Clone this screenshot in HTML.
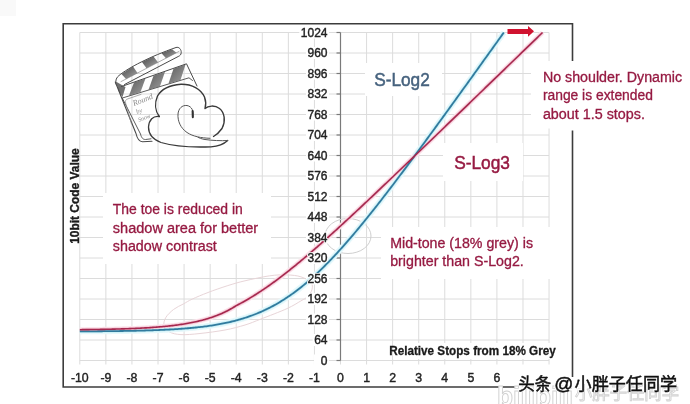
<!DOCTYPE html>
<html><head><meta charset="utf-8"><style>
html,body{margin:0;padding:0;background:#fff;width:690px;height:404px;overflow:hidden}
svg{display:block}
</style></head><body>
<svg width="690" height="404" viewBox="0 0 690 404">
<rect width="690" height="404" fill="#fff"/>
<rect width="16" height="16" fill="#f9f9f9"/>
<g stroke="#dcdcdc" stroke-width="1" fill="none"><line x1="79.8" y1="360.50" x2="549" y2="360.50"/><line x1="79.8" y1="340.00" x2="549" y2="340.00"/><line x1="79.8" y1="319.50" x2="549" y2="319.50"/><line x1="79.8" y1="299.00" x2="549" y2="299.00"/><line x1="79.8" y1="278.50" x2="549" y2="278.50"/><line x1="79.8" y1="258.00" x2="549" y2="258.00"/><line x1="79.8" y1="237.50" x2="549" y2="237.50"/><line x1="79.8" y1="217.00" x2="549" y2="217.00"/><line x1="79.8" y1="196.50" x2="549" y2="196.50"/><line x1="79.8" y1="176.00" x2="549" y2="176.00"/><line x1="79.8" y1="155.50" x2="549" y2="155.50"/><line x1="79.8" y1="135.00" x2="549" y2="135.00"/><line x1="79.8" y1="114.50" x2="549" y2="114.50"/><line x1="79.8" y1="94.00" x2="549" y2="94.00"/><line x1="79.8" y1="73.50" x2="549" y2="73.50"/><line x1="79.8" y1="53.00" x2="549" y2="53.00"/><line x1="79.8" y1="32.50" x2="549" y2="32.50"/><line x1="79.80" y1="32.5" x2="79.80" y2="364.5"/><line x1="105.87" y1="32.5" x2="105.87" y2="364.5"/><line x1="131.94" y1="32.5" x2="131.94" y2="364.5"/><line x1="158.01" y1="32.5" x2="158.01" y2="364.5"/><line x1="184.08" y1="32.5" x2="184.08" y2="364.5"/><line x1="210.15" y1="32.5" x2="210.15" y2="364.5"/><line x1="236.22" y1="32.5" x2="236.22" y2="364.5"/><line x1="262.29" y1="32.5" x2="262.29" y2="364.5"/><line x1="288.36" y1="32.5" x2="288.36" y2="364.5"/><line x1="314.43" y1="32.5" x2="314.43" y2="364.5"/><line x1="340.50" y1="32.5" x2="340.50" y2="364.5"/><line x1="366.57" y1="32.5" x2="366.57" y2="364.5"/><line x1="392.64" y1="32.5" x2="392.64" y2="364.5"/><line x1="418.71" y1="32.5" x2="418.71" y2="364.5"/><line x1="444.78" y1="32.5" x2="444.78" y2="364.5"/><line x1="470.85" y1="32.5" x2="470.85" y2="364.5"/><line x1="496.92" y1="32.5" x2="496.92" y2="364.5"/><line x1="522.99" y1="32.5" x2="522.99" y2="364.5"/><line x1="549.06" y1="32.5" x2="549.06" y2="364.5"/></g>
<g stroke="#7a7a7a" stroke-width="1.2"><line x1="340.5" y1="32.5" x2="340.5" y2="360.5"/><line x1="336.5" y1="360.50" x2="340.5" y2="360.50"/><line x1="336.5" y1="340.00" x2="340.5" y2="340.00"/><line x1="336.5" y1="319.50" x2="340.5" y2="319.50"/><line x1="336.5" y1="299.00" x2="340.5" y2="299.00"/><line x1="336.5" y1="278.50" x2="340.5" y2="278.50"/><line x1="336.5" y1="258.00" x2="340.5" y2="258.00"/><line x1="336.5" y1="237.50" x2="340.5" y2="237.50"/><line x1="336.5" y1="217.00" x2="340.5" y2="217.00"/><line x1="336.5" y1="196.50" x2="340.5" y2="196.50"/><line x1="336.5" y1="176.00" x2="340.5" y2="176.00"/><line x1="336.5" y1="155.50" x2="340.5" y2="155.50"/><line x1="336.5" y1="135.00" x2="340.5" y2="135.00"/><line x1="336.5" y1="114.50" x2="340.5" y2="114.50"/><line x1="336.5" y1="94.00" x2="340.5" y2="94.00"/><line x1="336.5" y1="73.50" x2="340.5" y2="73.50"/><line x1="336.5" y1="53.00" x2="340.5" y2="53.00"/><line x1="336.5" y1="32.50" x2="340.5" y2="32.50"/></g>

<ellipse cx="348" cy="236" rx="23" ry="17.5" fill="none" stroke="#cfcfcf" stroke-width="1"/>
<path d="M164 326 C163.4 323.6 164.2 320.2 165.8 317.5 C167.4 314.8 170.6 311.8 173.5 309.5 C176.4 307.2 180.2 305.7 183.3 304.0 C186.4 302.3 188.1 301.0 192.2 299.1 C196.3 297.2 202.1 294.8 208 292.5 C213.9 290.2 221.6 287.6 227.8 285.6 C234.0 283.7 238.0 282.4 245 280.8 C252.0 279.2 262.7 276.8 269.7 275.8 C276.7 274.8 281.8 274.7 287 274.9 C292.2 275.1 296.9 275.5 300.9 276.8 C304.9 278.1 309.1 280.4 311 282.5 C312.9 284.6 312.5 287.2 312 289.5 C311.5 291.8 309.7 294.5 307.8 296.4 C305.9 298.3 304.4 298.9 300.9 300.9 C297.4 302.9 293.6 305.6 287 308.6 C280.4 311.6 268.0 316.3 261 319 C254.0 321.7 251.0 323.2 245 325 C239.0 326.8 232.5 328.6 225 330 C217.5 331.4 207.3 332.7 200 333.5 C192.7 334.3 186.1 334.9 181 334.6 C175.9 334.4 172.3 333.4 169.5 332 C166.7 330.6 164.6 328.4 164 326 Z" fill="none" stroke="#e8d5d8" stroke-width="1"/>

<g fill="#fff"><rect x="314.00" y="354.50" width="15.00" height="12"/><rect x="312.66" y="334.00" width="16.34" height="12"/><rect x="305.99" y="313.50" width="23.01" height="12"/><rect x="305.99" y="293.00" width="23.01" height="12"/><rect x="305.99" y="272.50" width="23.01" height="12"/><rect x="305.99" y="252.00" width="23.01" height="12"/><rect x="305.99" y="231.50" width="23.01" height="12"/><rect x="305.99" y="211.00" width="23.01" height="12"/><rect x="305.99" y="190.50" width="23.01" height="12"/><rect x="305.99" y="170.00" width="23.01" height="12"/><rect x="305.99" y="149.50" width="23.01" height="12"/><rect x="305.99" y="129.00" width="23.01" height="12"/><rect x="305.99" y="108.50" width="23.01" height="12"/><rect x="305.99" y="88.00" width="23.01" height="12"/><rect x="305.99" y="67.50" width="23.01" height="12"/><rect x="305.99" y="47.00" width="23.01" height="12"/><rect x="299.32" y="26.50" width="29.68" height="12"/></g>
<g font-family="'Liberation Sans', sans-serif" font-size="12.3" fill="#222" stroke="#222" stroke-width="0.4" text-anchor="middle"><text x="79.80" y="382.1">-10</text><text x="105.87" y="382.1">-9</text><text x="131.94" y="382.1">-8</text><text x="158.01" y="382.1">-7</text><text x="184.08" y="382.1">-6</text><text x="210.15" y="382.1">-5</text><text x="236.22" y="382.1">-4</text><text x="262.29" y="382.1">-3</text><text x="288.36" y="382.1">-2</text><text x="314.43" y="382.1">-1</text><text x="340.50" y="382.1">0</text><text x="366.57" y="382.1">1</text><text x="392.64" y="382.1">2</text><text x="418.71" y="382.1">3</text><text x="444.78" y="382.1">4</text><text x="470.85" y="382.1">5</text><text x="496.92" y="382.1">6</text><text x="522.99" y="382.1">7</text><text x="549.06" y="382.1">8</text></g>
<g fill="#fff"><rect x="365" y="63" width="77" height="33"/><rect x="443" y="143" width="80" height="38"/><rect x="531" y="61" width="159" height="67.5"/><rect x="103" y="193" width="168" height="71"/><rect x="381" y="227" width="170" height="52"/><rect x="393" y="343" width="167" height="16"/></g><g font-family="'Liberation Sans', sans-serif"><text x="374.2" y="85.8" font-size="18.8" textLength="55.6" lengthAdjust="spacingAndGlyphs" fill="#46627e" stroke="#46627e" stroke-width="0.5" font-weight="normal" >S-Log2</text><text x="454.2" y="168.7" font-size="18.5" textLength="55.8" lengthAdjust="spacingAndGlyphs" fill="#961a42" stroke="#961a42" stroke-width="0.5" font-weight="normal" >S-Log3</text><text x="112.8" y="213.8" font-size="13.8" textLength="130" lengthAdjust="spacingAndGlyphs" fill="#961a42" stroke="#961a42" stroke-width="0.3" font-weight="normal" >The toe is reduced in</text><text x="112.8" y="233.2" font-size="13.8" textLength="145.4" lengthAdjust="spacingAndGlyphs" fill="#961a42" stroke="#961a42" stroke-width="0.3" font-weight="normal" >shadow area for better</text><text x="112.8" y="251.1" font-size="13.8" textLength="104" lengthAdjust="spacingAndGlyphs" fill="#961a42" stroke="#961a42" stroke-width="0.3" font-weight="normal" >shadow contrast</text><text x="390.2" y="247.7" font-size="13.8" textLength="142.8" lengthAdjust="spacingAndGlyphs" fill="#961a42" stroke="#961a42" stroke-width="0.3" font-weight="normal" >Mid-tone (18% grey) is</text><text x="390.2" y="265.6" font-size="13.8" textLength="133.6" lengthAdjust="spacingAndGlyphs" fill="#961a42" stroke="#961a42" stroke-width="0.3" font-weight="normal" >brighter than S-Log2.</text><text x="542.9" y="81.7" font-size="13.8" textLength="139.2" lengthAdjust="spacingAndGlyphs" fill="#961a42" stroke="#961a42" stroke-width="0.3" font-weight="normal" >No shoulder. Dynamic</text><text x="542.9" y="100.2" font-size="13.8" textLength="110" lengthAdjust="spacingAndGlyphs" fill="#961a42" stroke="#961a42" stroke-width="0.3" font-weight="normal" >range is extended</text><text x="542.9" y="118.8" font-size="13.8" textLength="102" lengthAdjust="spacingAndGlyphs" fill="#961a42" stroke="#961a42" stroke-width="0.3" font-weight="normal" >about 1.5 stops.</text><text x="389.2" y="355.1" font-size="12.3" textLength="166.6" lengthAdjust="spacingAndGlyphs" fill="#1a1a1a" stroke="#1a1a1a" stroke-width="0.3" font-weight="bold" >Relative Stops from 18% Grey</text><text x="0" y="0" font-size="12" textLength="95.5" lengthAdjust="spacingAndGlyphs" fill="#1a1a1a" stroke="#1a1a1a" stroke-width="0.35" font-weight="bold" transform="translate(78.6,243.8) rotate(-90)">10bit Code Value</text></g>

<g fill="none" stroke-linejoin="round" stroke-linecap="butt">
<path d="M79.80 331.39 L81.10 331.38 L82.41 331.37 L83.71 331.37 L85.01 331.36 L86.32 331.35 L87.62 331.34 L88.92 331.34 L90.23 331.33 L91.53 331.32 L92.84 331.31 L94.14 331.30 L95.44 331.29 L96.75 331.28 L98.05 331.27 L99.35 331.26 L100.66 331.25 L101.96 331.23 L103.26 331.22 L104.57 331.21 L105.87 331.20 L107.17 331.18 L108.48 331.17 L109.78 331.15 L111.08 331.14 L112.39 331.12 L113.69 331.11 L114.99 331.09 L116.30 331.07 L117.60 331.05 L118.91 331.04 L120.21 331.02 L121.51 331.00 L122.82 330.98 L124.12 330.96 L125.42 330.93 L126.73 330.91 L128.03 330.89 L129.33 330.86 L130.64 330.84 L131.94 330.81 L133.24 330.78 L134.55 330.76 L135.85 330.73 L137.15 330.70 L138.46 330.67 L139.76 330.64 L141.06 330.60 L142.37 330.57 L143.67 330.53 L144.98 330.50 L146.28 330.46 L147.58 330.42 L148.89 330.38 L150.19 330.34 L151.49 330.29 L152.80 330.25 L154.10 330.20 L155.40 330.15 L156.71 330.10 L158.01 330.05 L159.31 330.00 L160.62 329.94 L161.92 329.89 L163.22 329.83 L164.53 329.77 L165.83 329.71 L167.13 329.64 L168.44 329.57 L169.74 329.50 L171.05 329.43 L172.35 329.36 L173.65 329.28 L174.96 329.20 L176.26 329.12 L177.56 329.04 L178.87 328.95 L180.17 328.86 L181.47 328.76 L182.78 328.67 L184.08 328.57 L185.38 328.46 L186.69 328.36 L187.99 328.25 L189.29 328.13 L190.60 328.02 L191.90 327.89 L193.20 327.77 L194.51 327.64 L195.81 327.50 L197.12 327.37 L198.42 327.22 L199.72 327.08 L201.03 326.92 L202.33 326.77 L203.63 326.61 L204.94 326.44 L206.24 326.27 L207.54 326.09 L208.85 325.90 L210.15 325.71 L211.45 325.52 L212.76 325.32 L214.06 325.11 L215.36 324.90 L216.67 324.67 L217.97 324.45 L219.27 324.21 L220.58 323.97 L221.88 323.72 L223.19 323.46 L224.49 323.20 L225.79 322.93 L227.10 322.65 L228.40 322.36 L229.70 322.06 L231.01 321.75 L232.31 321.44 L233.61 321.11 L234.92 320.78 L236.22 320.44 L237.52 320.08 L238.83 319.72 L240.13 319.35 L241.43 318.96 L242.74 318.57 L244.04 318.16 L245.34 317.75 L246.65 317.32 L247.95 316.88 L249.26 316.43 L250.56 315.97 L251.86 315.49 L253.17 315.01 L254.47 314.51 L255.77 314.00 L257.08 313.47 L258.38 312.93 L259.68 312.38 L260.99 311.82 L262.29 311.24 L263.59 310.65 L264.90 310.04 L266.20 309.42 L267.50 308.79 L268.81 308.14 L270.11 307.48 L271.41 306.80 L272.72 306.10 L274.02 305.40 L275.33 304.67 L276.63 303.94 L277.93 303.18 L279.24 302.41 L280.54 301.63 L281.84 300.83 L283.15 300.01 L284.45 299.18 L285.75 298.34 L287.06 297.47 L288.36 296.60 L289.66 295.70 L290.97 294.79 L292.27 293.87 L293.57 292.92 L294.88 291.97 L296.18 290.99 L297.48 290.01 L298.79 289.00 L300.09 287.98 L301.40 286.94 L302.70 285.89 L304.00 284.83 L305.31 283.74 L306.61 282.65 L307.91 281.53 L309.22 280.41 L310.52 279.26 L311.82 278.11 L313.13 276.93 L314.43 275.75 L315.73 274.55 L317.04 273.33 L318.34 272.10 L319.64 270.86 L320.95 269.60 L322.25 268.33 L323.55 267.05 L324.86 265.75 L326.16 264.44 L327.47 263.12 L328.77 261.79 L330.07 260.44 L331.38 259.08 L332.68 257.71 L333.98 256.33 L335.29 254.93 L336.59 253.53 L337.89 252.11 L339.20 250.68 L340.50 249.24 L341.80 247.79 L343.11 246.33 L344.41 244.86 L345.71 243.38 L347.02 241.90 L348.32 240.40 L349.62 238.89 L350.93 237.37 L352.23 235.85 L353.54 234.31 L354.84 232.77 L356.14 231.22 L357.45 229.66 L358.75 228.09 L360.05 226.52 L361.36 224.94 L362.66 223.35 L363.96 221.75 L365.27 220.15 L366.57 218.54 L367.87 216.92 L369.18 215.30 L370.48 213.67 L371.78 212.03 L373.09 210.39 L374.39 208.75 L375.69 207.09 L377.00 205.44 L378.30 203.77 L379.61 202.10 L380.91 200.43 L382.21 198.75 L383.52 197.07 L384.82 195.38 L386.12 193.69 L387.43 192.00 L388.73 190.30 L390.03 188.59 L391.34 186.88 L392.64 185.17 L393.94 183.46 L395.25 181.74 L396.55 180.01 L397.85 178.29 L399.16 176.56 L400.46 174.83 L401.76 173.09 L403.07 171.35 L404.37 169.61 L405.68 167.87 L406.98 166.12 L408.28 164.37 L409.59 162.62 L410.89 160.86 L412.19 159.11 L413.50 157.35 L414.80 155.59 L416.10 153.82 L417.41 152.06 L418.71 150.29 L420.01 148.52 L421.32 146.75 L422.62 144.98 L423.92 143.20 L425.23 141.42 L426.53 139.64 L427.83 137.86 L429.14 136.08 L430.44 134.30 L431.75 132.51 L433.05 130.73 L434.35 128.94 L435.66 127.15 L436.96 125.36 L438.26 123.57 L439.57 121.78 L440.87 119.98 L442.17 118.19 L443.48 116.39 L444.78 114.60 L446.08 112.80 L447.39 111.00 L448.69 109.20 L449.99 107.40 L451.30 105.60 L452.60 103.79 L453.90 101.99 L455.21 100.18 L456.51 98.38 L457.81 96.57 L459.12 94.77 L460.42 92.96 L461.73 91.15 L463.03 89.34 L464.33 87.53 L465.64 85.72 L466.94 83.91 L468.24 82.10 L469.55 80.29 L470.85 78.48 L472.15 76.67 L473.46 74.85 L474.76 73.04 L476.06 71.23 L477.37 69.41 L478.67 67.60 L479.97 65.78 L481.28 63.96 L482.58 62.15 L483.88 60.33 L485.19 58.51 L486.49 56.70 L487.80 54.88 L489.10 53.06 L490.40 51.24 L491.71 49.42 L493.01 47.61 L494.31 45.79 L495.62 43.97 L496.92 42.15 L498.22 40.33 L499.53 38.51 L500.83 36.69 L502.13 34.87 L503.44 33.04 L503.83 32.50" stroke="#e6f8fb" stroke-width="6"/>
<path d="M79.80 329.69 L81.10 329.68 L82.41 329.66 L83.71 329.65 L85.01 329.63 L86.32 329.62 L87.62 329.60 L88.92 329.58 L90.23 329.57 L91.53 329.55 L92.84 329.53 L94.14 329.51 L95.44 329.49 L96.75 329.47 L98.05 329.45 L99.35 329.43 L100.66 329.41 L101.96 329.38 L103.26 329.36 L104.57 329.33 L105.87 329.31 L107.17 329.28 L108.48 329.25 L109.78 329.22 L111.08 329.19 L112.39 329.16 L113.69 329.13 L114.99 329.10 L116.30 329.06 L117.60 329.03 L118.91 328.99 L120.21 328.95 L121.51 328.91 L122.82 328.87 L124.12 328.83 L125.42 328.79 L126.73 328.74 L128.03 328.70 L129.33 328.65 L130.64 328.60 L131.94 328.54 L133.24 328.49 L134.55 328.44 L135.85 328.38 L137.15 328.32 L138.46 328.26 L139.76 328.19 L141.06 328.13 L142.37 328.06 L143.67 327.99 L144.98 327.91 L146.28 327.84 L147.58 327.76 L148.89 327.68 L150.19 327.59 L151.49 327.50 L152.80 327.41 L154.10 327.32 L155.40 327.22 L156.71 327.12 L158.01 327.02 L159.31 326.91 L160.62 326.80 L161.92 326.68 L163.22 326.57 L164.53 326.44 L165.83 326.31 L167.13 326.18 L168.44 326.04 L169.74 325.90 L171.05 325.75 L172.35 325.60 L173.65 325.45 L174.96 325.28 L176.26 325.11 L177.56 324.94 L178.87 324.76 L180.17 324.57 L181.47 324.38 L182.78 324.18 L184.08 323.97 L185.38 323.75 L186.69 323.53 L187.99 323.30 L189.29 323.06 L190.60 322.81 L191.90 322.56 L193.20 322.29 L194.51 322.02 L195.81 321.73 L197.12 321.44 L198.42 321.14 L199.72 320.82 L201.03 320.49 L202.33 320.16 L203.63 319.81 L204.94 319.44 L206.24 319.07 L207.54 318.68 L208.85 318.28 L210.15 317.86 L211.45 317.43 L212.76 316.99 L214.06 316.53 L215.36 316.05 L216.67 315.56 L217.97 315.04 L219.27 314.51 L220.58 313.96 L221.88 313.40 L223.19 312.81 L224.49 312.20 L225.79 311.57 L227.10 310.92 L228.40 310.24 L229.70 309.54 L231.01 308.82 L232.31 308.07 L233.61 307.29 L234.92 306.49 L236.22 305.66 L237.52 304.99 L238.83 304.30 L240.13 303.61 L241.43 302.90 L242.74 302.19 L244.04 301.46 L245.34 300.72 L246.65 299.97 L247.95 299.22 L249.26 298.45 L250.56 297.67 L251.86 296.88 L253.17 296.08 L254.47 295.27 L255.77 294.45 L257.08 293.62 L258.38 292.78 L259.68 291.93 L260.99 291.07 L262.29 290.20 L263.59 289.33 L264.90 288.44 L266.20 287.54 L267.50 286.64 L268.81 285.73 L270.11 284.80 L271.41 283.87 L272.72 282.93 L274.02 281.99 L275.33 281.03 L276.63 280.07 L277.93 279.10 L279.24 278.12 L280.54 277.13 L281.84 276.14 L283.15 275.14 L284.45 274.13 L285.75 273.12 L287.06 272.09 L288.36 271.07 L289.66 270.03 L290.97 268.99 L292.27 267.94 L293.57 266.89 L294.88 265.83 L296.18 264.76 L297.48 263.69 L298.79 262.62 L300.09 261.54 L301.40 260.45 L302.70 259.36 L304.00 258.26 L305.31 257.16 L306.61 256.05 L307.91 254.94 L309.22 253.82 L310.52 252.70 L311.82 251.58 L313.13 250.45 L314.43 249.32 L315.73 248.18 L317.04 247.04 L318.34 245.90 L319.64 244.75 L320.95 243.60 L322.25 242.44 L323.55 241.28 L324.86 240.12 L326.16 238.96 L327.47 237.79 L328.77 236.62 L330.07 235.45 L331.38 234.27 L332.68 233.09 L333.98 231.91 L335.29 230.73 L336.59 229.54 L337.89 228.35 L339.20 227.16 L340.50 225.97 L341.80 224.77 L343.11 223.58 L344.41 222.38 L345.71 221.17 L347.02 219.97 L348.32 218.77 L349.62 217.56 L350.93 216.35 L352.23 215.14 L353.54 213.93 L354.84 212.71 L356.14 211.50 L357.45 210.28 L358.75 209.06 L360.05 207.84 L361.36 206.62 L362.66 205.40 L363.96 204.18 L365.27 202.95 L366.57 201.72 L367.87 200.50 L369.18 199.27 L370.48 198.04 L371.78 196.81 L373.09 195.58 L374.39 194.34 L375.69 193.11 L377.00 191.88 L378.30 190.64 L379.61 189.41 L380.91 188.17 L382.21 186.93 L383.52 185.69 L384.82 184.45 L386.12 183.21 L387.43 181.97 L388.73 180.73 L390.03 179.49 L391.34 178.25 L392.64 177.00 L393.94 175.76 L395.25 174.52 L396.55 173.27 L397.85 172.03 L399.16 170.78 L400.46 169.53 L401.76 168.29 L403.07 167.04 L404.37 165.79 L405.68 164.54 L406.98 163.29 L408.28 162.05 L409.59 160.80 L410.89 159.55 L412.19 158.30 L413.50 157.05 L414.80 155.79 L416.10 154.54 L417.41 153.29 L418.71 152.04 L420.01 150.79 L421.32 149.53 L422.62 148.28 L423.92 147.03 L425.23 145.78 L426.53 144.52 L427.83 143.27 L429.14 142.01 L430.44 140.76 L431.75 139.51 L433.05 138.25 L434.35 137.00 L435.66 135.74 L436.96 134.49 L438.26 133.23 L439.57 131.97 L440.87 130.72 L442.17 129.46 L443.48 128.21 L444.78 126.95 L446.08 125.69 L447.39 124.44 L448.69 123.18 L449.99 121.92 L451.30 120.67 L452.60 119.41 L453.90 118.15 L455.21 116.89 L456.51 115.64 L457.81 114.38 L459.12 113.12 L460.42 111.86 L461.73 110.61 L463.03 109.35 L464.33 108.09 L465.64 106.83 L466.94 105.57 L468.24 104.32 L469.55 103.06 L470.85 101.80 L472.15 100.54 L473.46 99.28 L474.76 98.02 L476.06 96.76 L477.37 95.50 L478.67 94.25 L479.97 92.99 L481.28 91.73 L482.58 90.47 L483.88 89.21 L485.19 87.95 L486.49 86.69 L487.80 85.43 L489.10 84.17 L490.40 82.91 L491.71 81.65 L493.01 80.39 L494.31 79.13 L495.62 77.87 L496.92 76.62 L498.22 75.36 L499.53 74.10 L500.83 72.84 L502.13 71.58 L503.44 70.32 L504.74 69.06 L506.04 67.80 L507.35 66.54 L508.65 65.28 L509.95 64.02 L511.26 62.76 L512.56 61.50 L513.87 60.24 L515.17 58.98 L516.47 57.72 L517.78 56.46 L519.08 55.20 L520.38 53.94 L521.69 52.68 L522.99 51.42 L524.29 50.16 L525.60 48.90 L526.90 47.64 L528.20 46.38 L529.51 45.12 L530.81 43.85 L532.11 42.59 L533.42 41.33 L534.72 40.07 L536.02 38.81 L537.33 37.55 L538.63 36.29 L539.94 35.03 L541.24 33.77 L542.54 32.51 L542.55 32.50" stroke="#fce5ec" stroke-width="5"/>
<path d="M79.80 331.39 L81.10 331.38 L82.41 331.37 L83.71 331.37 L85.01 331.36 L86.32 331.35 L87.62 331.34 L88.92 331.34 L90.23 331.33 L91.53 331.32 L92.84 331.31 L94.14 331.30 L95.44 331.29 L96.75 331.28 L98.05 331.27 L99.35 331.26 L100.66 331.25 L101.96 331.23 L103.26 331.22 L104.57 331.21 L105.87 331.20 L107.17 331.18 L108.48 331.17 L109.78 331.15 L111.08 331.14 L112.39 331.12 L113.69 331.11 L114.99 331.09 L116.30 331.07 L117.60 331.05 L118.91 331.04 L120.21 331.02 L121.51 331.00 L122.82 330.98 L124.12 330.96 L125.42 330.93 L126.73 330.91 L128.03 330.89 L129.33 330.86 L130.64 330.84 L131.94 330.81 L133.24 330.78 L134.55 330.76 L135.85 330.73 L137.15 330.70 L138.46 330.67 L139.76 330.64 L141.06 330.60 L142.37 330.57 L143.67 330.53 L144.98 330.50 L146.28 330.46 L147.58 330.42 L148.89 330.38 L150.19 330.34 L151.49 330.29 L152.80 330.25 L154.10 330.20 L155.40 330.15 L156.71 330.10 L158.01 330.05 L159.31 330.00 L160.62 329.94 L161.92 329.89 L163.22 329.83 L164.53 329.77 L165.83 329.71 L167.13 329.64 L168.44 329.57 L169.74 329.50 L171.05 329.43 L172.35 329.36 L173.65 329.28 L174.96 329.20 L176.26 329.12 L177.56 329.04 L178.87 328.95 L180.17 328.86 L181.47 328.76 L182.78 328.67 L184.08 328.57 L185.38 328.46 L186.69 328.36 L187.99 328.25 L189.29 328.13 L190.60 328.02 L191.90 327.89 L193.20 327.77 L194.51 327.64 L195.81 327.50 L197.12 327.37 L198.42 327.22 L199.72 327.08 L201.03 326.92 L202.33 326.77 L203.63 326.61 L204.94 326.44 L206.24 326.27 L207.54 326.09 L208.85 325.90 L210.15 325.71 L211.45 325.52 L212.76 325.32 L214.06 325.11 L215.36 324.90 L216.67 324.67 L217.97 324.45 L219.27 324.21 L220.58 323.97 L221.88 323.72 L223.19 323.46 L224.49 323.20 L225.79 322.93 L227.10 322.65 L228.40 322.36 L229.70 322.06 L231.01 321.75 L232.31 321.44 L233.61 321.11 L234.92 320.78 L236.22 320.44 L237.52 320.08 L238.83 319.72 L240.13 319.35 L241.43 318.96 L242.74 318.57 L244.04 318.16 L245.34 317.75 L246.65 317.32 L247.95 316.88 L249.26 316.43 L250.56 315.97 L251.86 315.49 L253.17 315.01 L254.47 314.51 L255.77 314.00 L257.08 313.47 L258.38 312.93 L259.68 312.38 L260.99 311.82 L262.29 311.24 L263.59 310.65 L264.90 310.04 L266.20 309.42 L267.50 308.79 L268.81 308.14 L270.11 307.48 L271.41 306.80 L272.72 306.10 L274.02 305.40 L275.33 304.67 L276.63 303.94 L277.93 303.18 L279.24 302.41 L280.54 301.63 L281.84 300.83 L283.15 300.01 L284.45 299.18 L285.75 298.34 L287.06 297.47 L288.36 296.60 L289.66 295.70 L290.97 294.79 L292.27 293.87 L293.57 292.92 L294.88 291.97 L296.18 290.99 L297.48 290.01 L298.79 289.00 L300.09 287.98 L301.40 286.94 L302.70 285.89 L304.00 284.83 L305.31 283.74 L306.61 282.65 L307.91 281.53 L309.22 280.41 L310.52 279.26 L311.82 278.11 L313.13 276.93 L314.43 275.75 L315.73 274.55 L317.04 273.33 L318.34 272.10 L319.64 270.86 L320.95 269.60 L322.25 268.33 L323.55 267.05 L324.86 265.75 L326.16 264.44 L327.47 263.12 L328.77 261.79 L330.07 260.44 L331.38 259.08 L332.68 257.71 L333.98 256.33 L335.29 254.93 L336.59 253.53 L337.89 252.11 L339.20 250.68 L340.50 249.24 L341.80 247.79 L343.11 246.33 L344.41 244.86 L345.71 243.38 L347.02 241.90 L348.32 240.40 L349.62 238.89 L350.93 237.37 L352.23 235.85 L353.54 234.31 L354.84 232.77 L356.14 231.22 L357.45 229.66 L358.75 228.09 L360.05 226.52 L361.36 224.94 L362.66 223.35 L363.96 221.75 L365.27 220.15 L366.57 218.54 L367.87 216.92 L369.18 215.30 L370.48 213.67 L371.78 212.03 L373.09 210.39 L374.39 208.75 L375.69 207.09 L377.00 205.44 L378.30 203.77 L379.61 202.10 L380.91 200.43 L382.21 198.75 L383.52 197.07 L384.82 195.38 L386.12 193.69 L387.43 192.00 L388.73 190.30 L390.03 188.59 L391.34 186.88 L392.64 185.17 L393.94 183.46 L395.25 181.74 L396.55 180.01 L397.85 178.29 L399.16 176.56 L400.46 174.83 L401.76 173.09 L403.07 171.35 L404.37 169.61 L405.68 167.87 L406.98 166.12 L408.28 164.37 L409.59 162.62 L410.89 160.86 L412.19 159.11 L413.50 157.35 L414.80 155.59 L416.10 153.82 L417.41 152.06 L418.71 150.29 L420.01 148.52 L421.32 146.75 L422.62 144.98 L423.92 143.20 L425.23 141.42 L426.53 139.64 L427.83 137.86 L429.14 136.08 L430.44 134.30 L431.75 132.51 L433.05 130.73 L434.35 128.94 L435.66 127.15 L436.96 125.36 L438.26 123.57 L439.57 121.78 L440.87 119.98 L442.17 118.19 L443.48 116.39 L444.78 114.60 L446.08 112.80 L447.39 111.00 L448.69 109.20 L449.99 107.40 L451.30 105.60 L452.60 103.79 L453.90 101.99 L455.21 100.18 L456.51 98.38 L457.81 96.57 L459.12 94.77 L460.42 92.96 L461.73 91.15 L463.03 89.34 L464.33 87.53 L465.64 85.72 L466.94 83.91 L468.24 82.10 L469.55 80.29 L470.85 78.48 L472.15 76.67 L473.46 74.85 L474.76 73.04 L476.06 71.23 L477.37 69.41 L478.67 67.60 L479.97 65.78 L481.28 63.96 L482.58 62.15 L483.88 60.33 L485.19 58.51 L486.49 56.70 L487.80 54.88 L489.10 53.06 L490.40 51.24 L491.71 49.42 L493.01 47.61 L494.31 45.79 L495.62 43.97 L496.92 42.15 L498.22 40.33 L499.53 38.51 L500.83 36.69 L502.13 34.87 L503.44 33.04 L503.83 32.50" stroke="#c9eff6" stroke-width="3.3"/>
<path d="M79.80 329.69 L81.10 329.68 L82.41 329.66 L83.71 329.65 L85.01 329.63 L86.32 329.62 L87.62 329.60 L88.92 329.58 L90.23 329.57 L91.53 329.55 L92.84 329.53 L94.14 329.51 L95.44 329.49 L96.75 329.47 L98.05 329.45 L99.35 329.43 L100.66 329.41 L101.96 329.38 L103.26 329.36 L104.57 329.33 L105.87 329.31 L107.17 329.28 L108.48 329.25 L109.78 329.22 L111.08 329.19 L112.39 329.16 L113.69 329.13 L114.99 329.10 L116.30 329.06 L117.60 329.03 L118.91 328.99 L120.21 328.95 L121.51 328.91 L122.82 328.87 L124.12 328.83 L125.42 328.79 L126.73 328.74 L128.03 328.70 L129.33 328.65 L130.64 328.60 L131.94 328.54 L133.24 328.49 L134.55 328.44 L135.85 328.38 L137.15 328.32 L138.46 328.26 L139.76 328.19 L141.06 328.13 L142.37 328.06 L143.67 327.99 L144.98 327.91 L146.28 327.84 L147.58 327.76 L148.89 327.68 L150.19 327.59 L151.49 327.50 L152.80 327.41 L154.10 327.32 L155.40 327.22 L156.71 327.12 L158.01 327.02 L159.31 326.91 L160.62 326.80 L161.92 326.68 L163.22 326.57 L164.53 326.44 L165.83 326.31 L167.13 326.18 L168.44 326.04 L169.74 325.90 L171.05 325.75 L172.35 325.60 L173.65 325.45 L174.96 325.28 L176.26 325.11 L177.56 324.94 L178.87 324.76 L180.17 324.57 L181.47 324.38 L182.78 324.18 L184.08 323.97 L185.38 323.75 L186.69 323.53 L187.99 323.30 L189.29 323.06 L190.60 322.81 L191.90 322.56 L193.20 322.29 L194.51 322.02 L195.81 321.73 L197.12 321.44 L198.42 321.14 L199.72 320.82 L201.03 320.49 L202.33 320.16 L203.63 319.81 L204.94 319.44 L206.24 319.07 L207.54 318.68 L208.85 318.28 L210.15 317.86 L211.45 317.43 L212.76 316.99 L214.06 316.53 L215.36 316.05 L216.67 315.56 L217.97 315.04 L219.27 314.51 L220.58 313.96 L221.88 313.40 L223.19 312.81 L224.49 312.20 L225.79 311.57 L227.10 310.92 L228.40 310.24 L229.70 309.54 L231.01 308.82 L232.31 308.07 L233.61 307.29 L234.92 306.49 L236.22 305.66 L237.52 304.99 L238.83 304.30 L240.13 303.61 L241.43 302.90 L242.74 302.19 L244.04 301.46 L245.34 300.72 L246.65 299.97 L247.95 299.22 L249.26 298.45 L250.56 297.67 L251.86 296.88 L253.17 296.08 L254.47 295.27 L255.77 294.45 L257.08 293.62 L258.38 292.78 L259.68 291.93 L260.99 291.07 L262.29 290.20 L263.59 289.33 L264.90 288.44 L266.20 287.54 L267.50 286.64 L268.81 285.73 L270.11 284.80 L271.41 283.87 L272.72 282.93 L274.02 281.99 L275.33 281.03 L276.63 280.07 L277.93 279.10 L279.24 278.12 L280.54 277.13 L281.84 276.14 L283.15 275.14 L284.45 274.13 L285.75 273.12 L287.06 272.09 L288.36 271.07 L289.66 270.03 L290.97 268.99 L292.27 267.94 L293.57 266.89 L294.88 265.83 L296.18 264.76 L297.48 263.69 L298.79 262.62 L300.09 261.54 L301.40 260.45 L302.70 259.36 L304.00 258.26 L305.31 257.16 L306.61 256.05 L307.91 254.94 L309.22 253.82 L310.52 252.70 L311.82 251.58 L313.13 250.45 L314.43 249.32 L315.73 248.18 L317.04 247.04 L318.34 245.90 L319.64 244.75 L320.95 243.60 L322.25 242.44 L323.55 241.28 L324.86 240.12 L326.16 238.96 L327.47 237.79 L328.77 236.62 L330.07 235.45 L331.38 234.27 L332.68 233.09 L333.98 231.91 L335.29 230.73 L336.59 229.54 L337.89 228.35 L339.20 227.16 L340.50 225.97 L341.80 224.77 L343.11 223.58 L344.41 222.38 L345.71 221.17 L347.02 219.97 L348.32 218.77 L349.62 217.56 L350.93 216.35 L352.23 215.14 L353.54 213.93 L354.84 212.71 L356.14 211.50 L357.45 210.28 L358.75 209.06 L360.05 207.84 L361.36 206.62 L362.66 205.40 L363.96 204.18 L365.27 202.95 L366.57 201.72 L367.87 200.50 L369.18 199.27 L370.48 198.04 L371.78 196.81 L373.09 195.58 L374.39 194.34 L375.69 193.11 L377.00 191.88 L378.30 190.64 L379.61 189.41 L380.91 188.17 L382.21 186.93 L383.52 185.69 L384.82 184.45 L386.12 183.21 L387.43 181.97 L388.73 180.73 L390.03 179.49 L391.34 178.25 L392.64 177.00 L393.94 175.76 L395.25 174.52 L396.55 173.27 L397.85 172.03 L399.16 170.78 L400.46 169.53 L401.76 168.29 L403.07 167.04 L404.37 165.79 L405.68 164.54 L406.98 163.29 L408.28 162.05 L409.59 160.80 L410.89 159.55 L412.19 158.30 L413.50 157.05 L414.80 155.79 L416.10 154.54 L417.41 153.29 L418.71 152.04 L420.01 150.79 L421.32 149.53 L422.62 148.28 L423.92 147.03 L425.23 145.78 L426.53 144.52 L427.83 143.27 L429.14 142.01 L430.44 140.76 L431.75 139.51 L433.05 138.25 L434.35 137.00 L435.66 135.74 L436.96 134.49 L438.26 133.23 L439.57 131.97 L440.87 130.72 L442.17 129.46 L443.48 128.21 L444.78 126.95 L446.08 125.69 L447.39 124.44 L448.69 123.18 L449.99 121.92 L451.30 120.67 L452.60 119.41 L453.90 118.15 L455.21 116.89 L456.51 115.64 L457.81 114.38 L459.12 113.12 L460.42 111.86 L461.73 110.61 L463.03 109.35 L464.33 108.09 L465.64 106.83 L466.94 105.57 L468.24 104.32 L469.55 103.06 L470.85 101.80 L472.15 100.54 L473.46 99.28 L474.76 98.02 L476.06 96.76 L477.37 95.50 L478.67 94.25 L479.97 92.99 L481.28 91.73 L482.58 90.47 L483.88 89.21 L485.19 87.95 L486.49 86.69 L487.80 85.43 L489.10 84.17 L490.40 82.91 L491.71 81.65 L493.01 80.39 L494.31 79.13 L495.62 77.87 L496.92 76.62 L498.22 75.36 L499.53 74.10 L500.83 72.84 L502.13 71.58 L503.44 70.32 L504.74 69.06 L506.04 67.80 L507.35 66.54 L508.65 65.28 L509.95 64.02 L511.26 62.76 L512.56 61.50 L513.87 60.24 L515.17 58.98 L516.47 57.72 L517.78 56.46 L519.08 55.20 L520.38 53.94 L521.69 52.68 L522.99 51.42 L524.29 50.16 L525.60 48.90 L526.90 47.64 L528.20 46.38 L529.51 45.12 L530.81 43.85 L532.11 42.59 L533.42 41.33 L534.72 40.07 L536.02 38.81 L537.33 37.55 L538.63 36.29 L539.94 35.03 L541.24 33.77 L542.54 32.51 L542.55 32.50" stroke="#f3c6d4" stroke-width="3"/>
<path d="M79.80 331.39 L81.10 331.38 L82.41 331.37 L83.71 331.37 L85.01 331.36 L86.32 331.35 L87.62 331.34 L88.92 331.34 L90.23 331.33 L91.53 331.32 L92.84 331.31 L94.14 331.30 L95.44 331.29 L96.75 331.28 L98.05 331.27 L99.35 331.26 L100.66 331.25 L101.96 331.23 L103.26 331.22 L104.57 331.21 L105.87 331.20 L107.17 331.18 L108.48 331.17 L109.78 331.15 L111.08 331.14 L112.39 331.12 L113.69 331.11 L114.99 331.09 L116.30 331.07 L117.60 331.05 L118.91 331.04 L120.21 331.02 L121.51 331.00 L122.82 330.98 L124.12 330.96 L125.42 330.93 L126.73 330.91 L128.03 330.89 L129.33 330.86 L130.64 330.84 L131.94 330.81 L133.24 330.78 L134.55 330.76 L135.85 330.73 L137.15 330.70 L138.46 330.67 L139.76 330.64 L141.06 330.60 L142.37 330.57 L143.67 330.53 L144.98 330.50 L146.28 330.46 L147.58 330.42 L148.89 330.38 L150.19 330.34 L151.49 330.29 L152.80 330.25 L154.10 330.20 L155.40 330.15 L156.71 330.10 L158.01 330.05 L159.31 330.00 L160.62 329.94 L161.92 329.89 L163.22 329.83 L164.53 329.77 L165.83 329.71 L167.13 329.64 L168.44 329.57 L169.74 329.50 L171.05 329.43 L172.35 329.36 L173.65 329.28 L174.96 329.20 L176.26 329.12 L177.56 329.04 L178.87 328.95 L180.17 328.86 L181.47 328.76 L182.78 328.67 L184.08 328.57 L185.38 328.46 L186.69 328.36 L187.99 328.25 L189.29 328.13 L190.60 328.02 L191.90 327.89 L193.20 327.77 L194.51 327.64 L195.81 327.50 L197.12 327.37 L198.42 327.22 L199.72 327.08 L201.03 326.92 L202.33 326.77 L203.63 326.61 L204.94 326.44 L206.24 326.27 L207.54 326.09 L208.85 325.90 L210.15 325.71 L211.45 325.52 L212.76 325.32 L214.06 325.11 L215.36 324.90 L216.67 324.67 L217.97 324.45 L219.27 324.21 L220.58 323.97 L221.88 323.72 L223.19 323.46 L224.49 323.20 L225.79 322.93 L227.10 322.65 L228.40 322.36 L229.70 322.06 L231.01 321.75 L232.31 321.44 L233.61 321.11 L234.92 320.78 L236.22 320.44 L237.52 320.08 L238.83 319.72 L240.13 319.35 L241.43 318.96 L242.74 318.57 L244.04 318.16 L245.34 317.75 L246.65 317.32 L247.95 316.88 L249.26 316.43 L250.56 315.97 L251.86 315.49 L253.17 315.01 L254.47 314.51 L255.77 314.00 L257.08 313.47 L258.38 312.93 L259.68 312.38 L260.99 311.82 L262.29 311.24 L263.59 310.65 L264.90 310.04 L266.20 309.42 L267.50 308.79 L268.81 308.14 L270.11 307.48 L271.41 306.80 L272.72 306.10 L274.02 305.40 L275.33 304.67 L276.63 303.94 L277.93 303.18 L279.24 302.41 L280.54 301.63 L281.84 300.83 L283.15 300.01 L284.45 299.18 L285.75 298.34 L287.06 297.47 L288.36 296.60 L289.66 295.70 L290.97 294.79 L292.27 293.87 L293.57 292.92 L294.88 291.97 L296.18 290.99 L297.48 290.01 L298.79 289.00 L300.09 287.98 L301.40 286.94 L302.70 285.89 L304.00 284.83 L305.31 283.74 L306.61 282.65 L307.91 281.53 L309.22 280.41 L310.52 279.26 L311.82 278.11 L313.13 276.93 L314.43 275.75 L315.73 274.55 L317.04 273.33 L318.34 272.10 L319.64 270.86 L320.95 269.60 L322.25 268.33 L323.55 267.05 L324.86 265.75 L326.16 264.44 L327.47 263.12 L328.77 261.79 L330.07 260.44 L331.38 259.08 L332.68 257.71 L333.98 256.33 L335.29 254.93 L336.59 253.53 L337.89 252.11 L339.20 250.68 L340.50 249.24 L341.80 247.79 L343.11 246.33 L344.41 244.86 L345.71 243.38 L347.02 241.90 L348.32 240.40 L349.62 238.89 L350.93 237.37 L352.23 235.85 L353.54 234.31 L354.84 232.77 L356.14 231.22 L357.45 229.66 L358.75 228.09 L360.05 226.52 L361.36 224.94 L362.66 223.35 L363.96 221.75 L365.27 220.15 L366.57 218.54 L367.87 216.92 L369.18 215.30 L370.48 213.67 L371.78 212.03 L373.09 210.39 L374.39 208.75 L375.69 207.09 L377.00 205.44 L378.30 203.77 L379.61 202.10 L380.91 200.43 L382.21 198.75 L383.52 197.07 L384.82 195.38 L386.12 193.69 L387.43 192.00 L388.73 190.30 L390.03 188.59 L391.34 186.88 L392.64 185.17 L393.94 183.46 L395.25 181.74 L396.55 180.01 L397.85 178.29 L399.16 176.56 L400.46 174.83 L401.76 173.09 L403.07 171.35 L404.37 169.61 L405.68 167.87 L406.98 166.12 L408.28 164.37 L409.59 162.62 L410.89 160.86 L412.19 159.11 L413.50 157.35 L414.80 155.59 L416.10 153.82 L417.41 152.06 L418.71 150.29 L420.01 148.52 L421.32 146.75 L422.62 144.98 L423.92 143.20 L425.23 141.42 L426.53 139.64 L427.83 137.86 L429.14 136.08 L430.44 134.30 L431.75 132.51 L433.05 130.73 L434.35 128.94 L435.66 127.15 L436.96 125.36 L438.26 123.57 L439.57 121.78 L440.87 119.98 L442.17 118.19 L443.48 116.39 L444.78 114.60 L446.08 112.80 L447.39 111.00 L448.69 109.20 L449.99 107.40 L451.30 105.60 L452.60 103.79 L453.90 101.99 L455.21 100.18 L456.51 98.38 L457.81 96.57 L459.12 94.77 L460.42 92.96 L461.73 91.15 L463.03 89.34 L464.33 87.53 L465.64 85.72 L466.94 83.91 L468.24 82.10 L469.55 80.29 L470.85 78.48 L472.15 76.67 L473.46 74.85 L474.76 73.04 L476.06 71.23 L477.37 69.41 L478.67 67.60 L479.97 65.78 L481.28 63.96 L482.58 62.15 L483.88 60.33 L485.19 58.51 L486.49 56.70 L487.80 54.88 L489.10 53.06 L490.40 51.24 L491.71 49.42 L493.01 47.61 L494.31 45.79 L495.62 43.97 L496.92 42.15 L498.22 40.33 L499.53 38.51 L500.83 36.69 L502.13 34.87 L503.44 33.04 L503.83 32.50" stroke="#317b9e" stroke-width="1.8"/>
<path d="M79.80 329.69 L81.10 329.68 L82.41 329.66 L83.71 329.65 L85.01 329.63 L86.32 329.62 L87.62 329.60 L88.92 329.58 L90.23 329.57 L91.53 329.55 L92.84 329.53 L94.14 329.51 L95.44 329.49 L96.75 329.47 L98.05 329.45 L99.35 329.43 L100.66 329.41 L101.96 329.38 L103.26 329.36 L104.57 329.33 L105.87 329.31 L107.17 329.28 L108.48 329.25 L109.78 329.22 L111.08 329.19 L112.39 329.16 L113.69 329.13 L114.99 329.10 L116.30 329.06 L117.60 329.03 L118.91 328.99 L120.21 328.95 L121.51 328.91 L122.82 328.87 L124.12 328.83 L125.42 328.79 L126.73 328.74 L128.03 328.70 L129.33 328.65 L130.64 328.60 L131.94 328.54 L133.24 328.49 L134.55 328.44 L135.85 328.38 L137.15 328.32 L138.46 328.26 L139.76 328.19 L141.06 328.13 L142.37 328.06 L143.67 327.99 L144.98 327.91 L146.28 327.84 L147.58 327.76 L148.89 327.68 L150.19 327.59 L151.49 327.50 L152.80 327.41 L154.10 327.32 L155.40 327.22 L156.71 327.12 L158.01 327.02 L159.31 326.91 L160.62 326.80 L161.92 326.68 L163.22 326.57 L164.53 326.44 L165.83 326.31 L167.13 326.18 L168.44 326.04 L169.74 325.90 L171.05 325.75 L172.35 325.60 L173.65 325.45 L174.96 325.28 L176.26 325.11 L177.56 324.94 L178.87 324.76 L180.17 324.57 L181.47 324.38 L182.78 324.18 L184.08 323.97 L185.38 323.75 L186.69 323.53 L187.99 323.30 L189.29 323.06 L190.60 322.81 L191.90 322.56 L193.20 322.29 L194.51 322.02 L195.81 321.73 L197.12 321.44 L198.42 321.14 L199.72 320.82 L201.03 320.49 L202.33 320.16 L203.63 319.81 L204.94 319.44 L206.24 319.07 L207.54 318.68 L208.85 318.28 L210.15 317.86 L211.45 317.43 L212.76 316.99 L214.06 316.53 L215.36 316.05 L216.67 315.56 L217.97 315.04 L219.27 314.51 L220.58 313.96 L221.88 313.40 L223.19 312.81 L224.49 312.20 L225.79 311.57 L227.10 310.92 L228.40 310.24 L229.70 309.54 L231.01 308.82 L232.31 308.07 L233.61 307.29 L234.92 306.49 L236.22 305.66 L237.52 304.99 L238.83 304.30 L240.13 303.61 L241.43 302.90 L242.74 302.19 L244.04 301.46 L245.34 300.72 L246.65 299.97 L247.95 299.22 L249.26 298.45 L250.56 297.67 L251.86 296.88 L253.17 296.08 L254.47 295.27 L255.77 294.45 L257.08 293.62 L258.38 292.78 L259.68 291.93 L260.99 291.07 L262.29 290.20 L263.59 289.33 L264.90 288.44 L266.20 287.54 L267.50 286.64 L268.81 285.73 L270.11 284.80 L271.41 283.87 L272.72 282.93 L274.02 281.99 L275.33 281.03 L276.63 280.07 L277.93 279.10 L279.24 278.12 L280.54 277.13 L281.84 276.14 L283.15 275.14 L284.45 274.13 L285.75 273.12 L287.06 272.09 L288.36 271.07 L289.66 270.03 L290.97 268.99 L292.27 267.94 L293.57 266.89 L294.88 265.83 L296.18 264.76 L297.48 263.69 L298.79 262.62 L300.09 261.54 L301.40 260.45 L302.70 259.36 L304.00 258.26 L305.31 257.16 L306.61 256.05 L307.91 254.94 L309.22 253.82 L310.52 252.70 L311.82 251.58 L313.13 250.45 L314.43 249.32 L315.73 248.18 L317.04 247.04 L318.34 245.90 L319.64 244.75 L320.95 243.60 L322.25 242.44 L323.55 241.28 L324.86 240.12 L326.16 238.96 L327.47 237.79 L328.77 236.62 L330.07 235.45 L331.38 234.27 L332.68 233.09 L333.98 231.91 L335.29 230.73 L336.59 229.54 L337.89 228.35 L339.20 227.16 L340.50 225.97 L341.80 224.77 L343.11 223.58 L344.41 222.38 L345.71 221.17 L347.02 219.97 L348.32 218.77 L349.62 217.56 L350.93 216.35 L352.23 215.14 L353.54 213.93 L354.84 212.71 L356.14 211.50 L357.45 210.28 L358.75 209.06 L360.05 207.84 L361.36 206.62 L362.66 205.40 L363.96 204.18 L365.27 202.95 L366.57 201.72 L367.87 200.50 L369.18 199.27 L370.48 198.04 L371.78 196.81 L373.09 195.58 L374.39 194.34 L375.69 193.11 L377.00 191.88 L378.30 190.64 L379.61 189.41 L380.91 188.17 L382.21 186.93 L383.52 185.69 L384.82 184.45 L386.12 183.21 L387.43 181.97 L388.73 180.73 L390.03 179.49 L391.34 178.25 L392.64 177.00 L393.94 175.76 L395.25 174.52 L396.55 173.27 L397.85 172.03 L399.16 170.78 L400.46 169.53 L401.76 168.29 L403.07 167.04 L404.37 165.79 L405.68 164.54 L406.98 163.29 L408.28 162.05 L409.59 160.80 L410.89 159.55 L412.19 158.30 L413.50 157.05 L414.80 155.79 L416.10 154.54 L417.41 153.29 L418.71 152.04 L420.01 150.79 L421.32 149.53 L422.62 148.28 L423.92 147.03 L425.23 145.78 L426.53 144.52 L427.83 143.27 L429.14 142.01 L430.44 140.76 L431.75 139.51 L433.05 138.25 L434.35 137.00 L435.66 135.74 L436.96 134.49 L438.26 133.23 L439.57 131.97 L440.87 130.72 L442.17 129.46 L443.48 128.21 L444.78 126.95 L446.08 125.69 L447.39 124.44 L448.69 123.18 L449.99 121.92 L451.30 120.67 L452.60 119.41 L453.90 118.15 L455.21 116.89 L456.51 115.64 L457.81 114.38 L459.12 113.12 L460.42 111.86 L461.73 110.61 L463.03 109.35 L464.33 108.09 L465.64 106.83 L466.94 105.57 L468.24 104.32 L469.55 103.06 L470.85 101.80 L472.15 100.54 L473.46 99.28 L474.76 98.02 L476.06 96.76 L477.37 95.50 L478.67 94.25 L479.97 92.99 L481.28 91.73 L482.58 90.47 L483.88 89.21 L485.19 87.95 L486.49 86.69 L487.80 85.43 L489.10 84.17 L490.40 82.91 L491.71 81.65 L493.01 80.39 L494.31 79.13 L495.62 77.87 L496.92 76.62 L498.22 75.36 L499.53 74.10 L500.83 72.84 L502.13 71.58 L503.44 70.32 L504.74 69.06 L506.04 67.80 L507.35 66.54 L508.65 65.28 L509.95 64.02 L511.26 62.76 L512.56 61.50 L513.87 60.24 L515.17 58.98 L516.47 57.72 L517.78 56.46 L519.08 55.20 L520.38 53.94 L521.69 52.68 L522.99 51.42 L524.29 50.16 L525.60 48.90 L526.90 47.64 L528.20 46.38 L529.51 45.12 L530.81 43.85 L532.11 42.59 L533.42 41.33 L534.72 40.07 L536.02 38.81 L537.33 37.55 L538.63 36.29 L539.94 35.03 L541.24 33.77 L542.54 32.51 L542.55 32.50" stroke="#a6284e" stroke-width="1.6"/>
</g>
<g font-family="'Liberation Sans', sans-serif" font-size="12" fill="#fff" stroke="#fff" stroke-width="2.2" stroke-linejoin="round" text-anchor="end"><text x="327.5" y="364.80">0</text><text x="327.5" y="344.30">64</text><text x="327.5" y="323.80">128</text><text x="327.5" y="303.30">192</text><text x="327.5" y="282.80">256</text><text x="327.5" y="262.30">320</text><text x="327.5" y="241.80">384</text><text x="327.5" y="221.30">448</text><text x="327.5" y="200.80">512</text><text x="327.5" y="180.30">576</text><text x="327.5" y="159.80">640</text><text x="327.5" y="139.30">704</text><text x="327.5" y="118.80">768</text><text x="327.5" y="98.30">832</text><text x="327.5" y="77.80">896</text><text x="327.5" y="57.30">960</text><text x="327.5" y="36.80">1024</text></g><g font-family="'Liberation Sans', sans-serif" font-size="12" fill="#222" stroke="#222" stroke-width="0.4" text-anchor="end"><text x="327.5" y="364.80">0</text><text x="327.5" y="344.30">64</text><text x="327.5" y="323.80">128</text><text x="327.5" y="303.30">192</text><text x="327.5" y="282.80">256</text><text x="327.5" y="262.30">320</text><text x="327.5" y="241.80">384</text><text x="327.5" y="221.30">448</text><text x="327.5" y="200.80">512</text><text x="327.5" y="180.30">576</text><text x="327.5" y="159.80">640</text><text x="327.5" y="139.30">704</text><text x="327.5" y="118.80">768</text><text x="327.5" y="98.30">832</text><text x="327.5" y="77.80">896</text><text x="327.5" y="57.30">960</text><text x="327.5" y="36.80">1024</text></g>
<path d="M507.5 29 L528 29 L528 26 L534 31.3 L528 36.7 L528 34 L507.5 34 Z" fill="#d0122f"/>
<g stroke="#3c3c3c" stroke-width="1.6" fill="none">
<path d="M572.5 61 L572.5 23.8 L63.2 23.8 L63.2 387 L516 387 M572.5 377 L572.5 130.5"/>
</g>

<g id="logo" fill="none" stroke="#4a4a4a" stroke-linejoin="round" stroke-linecap="round">
 <defs>
  <linearGradient id="stg" x1="0" y1="0" x2="1" y2="1">
   <stop offset="0" stop-color="#4a4a4a"/><stop offset="1" stop-color="#a8a8a8"/>
  </linearGradient>
  <linearGradient id="stg2" x1="0" y1="0" x2="1" y2="1">
   <stop offset="0" stop-color="#5a5a5a"/><stop offset="1" stop-color="#a0a0a0"/>
  </linearGradient>
 </defs>
 <!-- upper arm -->
 <g fill="url(#stg)" stroke="none">
  <path d="M121.5 73.9 L133.0 66.6 L137.5 73.0 L126.0 79.0 Z"/>
  <path d="M142.0 61.9 L153.5 56.6 L158.0 62.3 L146.5 68.3 Z"/>
  <path d="M161.5 53.2 L172.0 49.2 L176.5 52.7 L166.0 58.2 Z"/>
 </g>
 <path d="M116 84 C115.2 80 116.5 77.5 119 75.5 C128 68 150 56.5 176 47.5 C179 46.5 181.5 49.5 181.2 52.8 C181 54.8 180 55.6 178.8 56.2 L124.5 84.5" stroke-width="1"/>
 <path d="M121 81.6 L179 51.4" stroke-width="0.6" stroke="#777"/>
 <!-- hinge dark -->
 <path d="M115.8 81.5 L121 84.5 L125.5 87 L122.5 97 L119 92 Z" fill="#707070" stroke="none"/>
 <!-- lower arm stripes -->
 <g fill="url(#stg2)" stroke="none">
  <path d="M134.0 82.5 L145.5 78.5 L140.5 92.1 L129.0 95.6 Z"/>
  <path d="M153.5 75.7 L165.0 71.7 L160.0 86.2 L148.5 89.7 Z"/>
  <path d="M173.5 68.8 L185.5 64.6 L180.5 80.0 L168.5 83.6 Z"/>
 </g>
 <!-- lower arm outline -->
 <path d="M121.5 86.5 L186.5 63.8 L197 86" stroke-width="1"/>
 <path d="M123 97.8 L189 77.8 L192.5 80.5" stroke-width="0.9"/>
 <!-- slate body -->
 <path d="M115.3 82 L136 133.5 C137 138 139 141.5 142.5 141.8 L152 141.2" stroke-width="1.1"/>
 <path d="M122 97.5 L140.5 134 C141.5 138 143 139.5 145.5 139.5 L151 138.8" stroke-width="0.9"/>
 <!-- slate inner label border -->
 <path d="M131.5 124 L125.6 103 C125 100.5 126 99.3 128 98.8 L141 94.4" stroke-width="0.7" stroke="#8a8a8a"/>
 <!-- handwriting -->
 <g font-family="'Liberation Serif', serif" font-style="italic" fill="#8a8a8a" stroke="none">
  <text x="0" y="0" font-size="8" transform="translate(134,106) rotate(-22)">Round</text>
  <text x="0" y="0" font-size="6.5" transform="translate(137,114) rotate(-22)">by</text>
  <text x="0" y="0" font-size="6" transform="translate(139,122) rotate(-22)">Snow</text>
 </g>
 <!-- cloud outline -->
 <path d="M159.3 116.5 C155 111 154.5 103 157.5 96 C161.5 89 170 85 181 84.2 C192 84 201 89 204.5 97 C206 101 206 105 205 108.6 C208 105.5 215 105 219.5 108.5 C224.5 112.5 226 121 222 128.5 C219.5 132 217 134.5 213.5 136.5" stroke-width="1.4" stroke="#3a3a3a"/>
 <path d="M159.3 116.5 C153 115.5 149 120 148.5 127 C148.5 134 153 139.5 161 142.5 C173 146 193 147.5 211 146.8 C219 146.2 224.5 143.5 227.7 140.5" stroke-width="1.3" stroke="#3a3a3a"/>
 <path d="M227.7 140.5 C221 141 212 140.5 205 139.5 C201.5 139 199.5 138 198 137.3" stroke-width="1" stroke="#555"/>
 <!-- spiral -->
 <path d="M193 116.7 C193.8 111 192 106.5 187 105.5 C182 105 178.5 108.5 178 114 C177.5 121 180.5 128 187 132.5 C193 136.5 201 138 210 138.3" stroke-width="1" stroke="#555"/>
 <path d="M192.6 111 L192.8 117.2" stroke-width="2" stroke="#333"/>
</g>


<rect x="515" y="372" width="38" height="20" fill="#fff"/>
<g font-family="'Liberation Sans', 'Noto Sans CJK SC', sans-serif" fill="#fff" stroke="#d2d2d2" stroke-width="0.9">
 <text x="497" y="405" font-size="25" font-weight="bold" textLength="76" lengthAdjust="spacingAndGlyphs">bilibili</text>
 <text x="575" y="399" font-size="17.4" textLength="104" lengthAdjust="spacingAndGlyphs">小胖子任同学</text>
</g>
<g font-family="'Liberation Sans', 'Noto Sans CJK SC', sans-serif" font-size="17.4">
 <g fill="#fff" stroke="#fff" stroke-width="1.6" stroke-linejoin="round" transform="translate(-0.7,-0.7)">
  <text x="518.2" y="389.6" textLength="33" lengthAdjust="spacingAndGlyphs">头条</text>
  <text x="554.3" y="390" font-size="18.8">@</text>
  <text x="574.6" y="389.6" textLength="102.5" lengthAdjust="spacingAndGlyphs">小胖子任同学</text>
 </g>
 <g fill="#111" stroke="#111" stroke-width="0.5">
  <text x="518.2" y="389.6" textLength="33" lengthAdjust="spacingAndGlyphs">头条</text>
  <text x="554.3" y="390" font-size="18.8">@</text>
  <text x="574.6" y="389.6" textLength="102.5" lengthAdjust="spacingAndGlyphs">小胖子任同学</text>
 </g>
</g>

</svg>
</body></html>
